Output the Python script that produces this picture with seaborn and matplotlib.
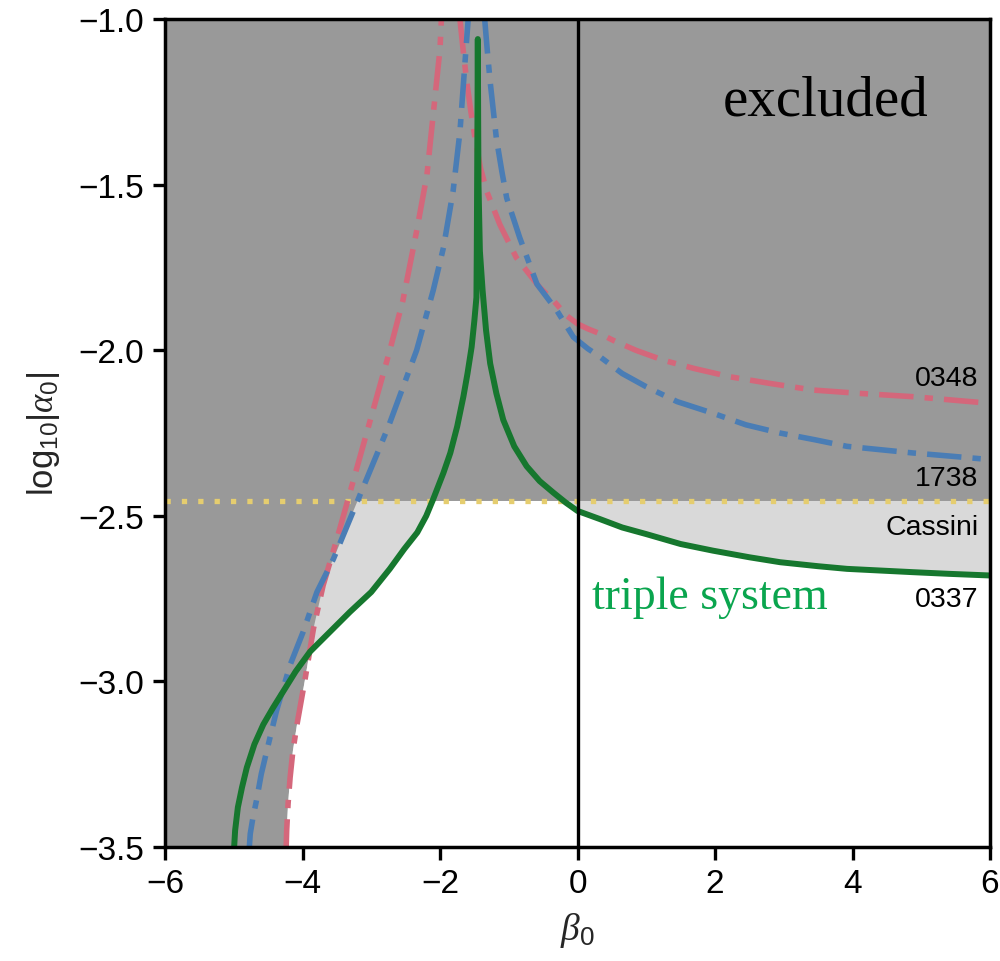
import numpy as np
import matplotlib
matplotlib.use("Agg")
import matplotlib.pyplot as plt
import seaborn as sns

# ---------------- data ----------------
# PSR J0348+0432 constraint (red dash-dot), left and right branches
red_left_x = [-4.24, -4.23, -4.21, -4.18, -4.14, -4.08, -4.02, -3.96, -3.84, -3.70, -3.50, -3.31, -3.02, -2.73, -2.54, -2.34, -2.19, -2.10, -2.00, -1.98]
red_left_y = [-3.52, -3.45, -3.37, -3.29, -3.21, -3.13, -3.06, -2.99, -2.84, -2.71, -2.57, -2.43, -2.215, -2.00, -1.85, -1.64, -1.47, -1.29, -1.09, -1.00]
red_right_x = [-1.71, -1.66, -1.61, -1.55, -1.49, -1.41, -1.32, -1.13, -0.89, -0.55, -0.35, -0.16, 0.00, 0.15, 0.33, 0.52, 0.85, 1.25, 1.70, 2.22, 2.80, 3.43, 4.10, 4.88, 6.00]
red_right_y = [-1.00, -1.10, -1.19, -1.28, -1.36, -1.45, -1.52, -1.62, -1.72, -1.81, -1.85, -1.895, -1.92, -1.935, -1.95, -1.97, -2.00, -2.03, -2.055, -2.08, -2.10, -2.12, -2.13, -2.14, -2.16]

# PSR J1738+0333 constraint (blue dash-dot)
blue_left_x = [-4.78, -4.76, -4.72, -4.67, -4.60, -4.52, -4.45, -4.38, -4.18, -3.99, -3.79, -3.55, -3.31, -3.19, -2.75, -2.34, -2.10, -1.95, -1.81, -1.71, -1.64, -1.59]
blue_left_y = [-3.52, -3.46, -3.41, -3.36, -3.28, -3.21, -3.15, -3.09, -2.95, -2.85, -2.73, -2.63, -2.51, -2.45, -2.23, -2.00, -1.82, -1.69, -1.52, -1.34, -1.14, -1.00]
blue_right_x = [-1.35, -1.31, -1.27, -1.18, -1.10, -1.03, -0.84, -0.59, -0.30, -0.06, 0.00, 0.15, 0.33, 0.65, 1.00, 1.45, 1.97, 2.45, 2.95, 3.45, 3.92, 4.40, 4.88, 5.45, 6.00]
blue_right_y = [-1.00, -1.10, -1.19, -1.36, -1.46, -1.54, -1.66, -1.80, -1.88, -1.96, -1.97, -1.995, -2.02, -2.07, -2.11, -2.155, -2.19, -2.225, -2.25, -2.27, -2.29, -2.30, -2.31, -2.32, -2.33]

# Triple system PSR J0337+1715 (green solid)
green_left_x = [-5.00, -4.98, -4.94, -4.88, -4.81, -4.70, -4.57, -4.43, -4.28, -4.10, -3.89, -3.60, -3.31, -3.00, -2.73, -2.52, -2.33, -2.20, -2.10, -1.95, -1.85, -1.75, -1.66, -1.60, -1.54, -1.50, -1.47, -1.465, -1.46, -1.455, -1.45]
green_left_y = [-3.52, -3.45, -3.38, -3.32, -3.26, -3.19, -3.13, -3.08, -3.03, -2.97, -2.91, -2.85, -2.79, -2.73, -2.66, -2.60, -2.55, -2.50, -2.45, -2.37, -2.31, -2.23, -2.14, -2.07, -1.99, -1.91, -1.84, -1.70, -1.50, -1.30, -1.06]
green_right_x = [-1.45, -1.445, -1.44, -1.42, -1.38, -1.33, -1.27, -1.18, -1.08, -0.92, -0.74, -0.55, -0.35, -0.17, 0.00, 0.33, 0.65, 1.00, 1.50, 1.97, 2.50, 2.95, 3.50, 3.92, 4.40, 4.88, 5.40, 6.00]
green_right_y = [-1.06, -1.30, -1.50, -1.70, -1.82, -1.94, -2.04, -2.13, -2.21, -2.29, -2.35, -2.395, -2.43, -2.46, -2.485, -2.51, -2.535, -2.555, -2.585, -2.605, -2.625, -2.64, -2.652, -2.66, -2.665, -2.67, -2.675, -2.68]

# Cassini bound
cassini_y = -2.455

x_ticks = [-6, -4, -2, 0, 2, 4, 6]
y_ticks = [-1.0, -1.5, -2.0, -2.5, -3.0, -3.5]

labels = ["0348", "1738", "Cassini", "0337"]
label_y = [-2.085, -2.385, -2.533, -2.752]

# ---------------- style ----------------
sns.set_theme(style="ticks")
plt.rcParams["font.family"] = ["Liberation Sans", "DejaVu Sans"]
plt.rcParams["mathtext.fontset"] = "custom"
plt.rcParams["mathtext.rm"] = "Liberation Sans"
plt.rcParams["mathtext.it"] = "Liberation Serif:italic"
plt.rcParams["axes.unicode_minus"] = True

DARK = "#999999"
LIGHT = "#d9d9d9"
RED = "#d4677b"
BLUE = "#4a7db5"
GREEN = "#16772e"
GOLD = "#e5cd6f"

fig = plt.figure(figsize=(10, 9.62), dpi=100)
ax = fig.add_axes([0.165, 0.1185, 0.825, 0.8605])
ax.set_facecolor(DARK)


def curve_on_grid(xg, lx, ly, rx, ry):
    y = np.zeros_like(xg)  # above the plotted range between branches
    lx, ly, rx, ry = map(np.asarray, (lx, ly, rx, ry))
    y[xg < lx[0]] = -9.0
    m = (xg >= lx[0]) & (xg <= lx[-1])
    y[m] = np.interp(xg[m], lx, ly)
    m = (xg >= rx[0])
    y[m] = np.interp(xg[m], rx, ry)
    return y


xg = np.linspace(-6, 6, 6001)
ry_g = curve_on_grid(xg, red_left_x, red_left_y, red_right_x, red_right_y)
by_g = curve_on_grid(xg, blue_left_x, blue_left_y, blue_right_x, blue_right_y)
gy_g = curve_on_grid(xg, green_left_x, green_left_y, green_right_x, green_right_y)

pulsar_cassini = np.minimum(np.minimum(ry_g, by_g), cassini_y)
allowed = np.minimum(pulsar_cassini, gy_g)

ax.fill_between(xg, -10, pulsar_cassini, color=LIGHT, lw=0, zorder=1)
ax.fill_between(xg, -10, allowed, color="white", lw=0, zorder=1.5)

# Cassini dotted line
ax.axhline(cassini_y, color=GOLD, linewidth=3.8, linestyle=(0, (1.0, 2.1)), zorder=2)

dash_dot = (0, (6.2, 2.0, 1.5, 2.0))
for lx, ly, c in [(red_left_x, red_left_y, RED), (red_right_x, red_right_y, RED),
                  (blue_left_x, blue_left_y, BLUE), (blue_right_x, blue_right_y, BLUE)]:
    sns.lineplot(x=lx, y=ly, ax=ax, color=c, sort=False, estimator=None, zorder=3)
    ln = ax.lines[-1]
    ln.set_linewidth(4.0)
    ln.set_linestyle(dash_dot)

gx = green_left_x + green_right_x[1:]
gy = green_left_y + green_right_y[1:]
sns.lineplot(x=gx, y=gy, ax=ax, color=GREEN, sort=False, estimator=None, zorder=4)
ax.lines[-1].set_linewidth(4.3)
ax.lines[-1].set_solid_joinstyle("round")

ax.axvline(0, color="black", linewidth=2.4, zorder=5)

ax.set_xlim(-6, 6)
ax.set_ylim(-3.5, -1.0)
ax.set_xticks(x_ticks)
ax.set_yticks(y_ticks)
ax.set_xticklabels([str(v).replace("-", "\u2212") for v in x_ticks])
ax.set_yticklabels([f"{v:.1f}".replace("-", "\u2212") for v in y_ticks])
ax.tick_params(direction="out", length=9, width=2.4, labelsize=24, colors="black", pad=6)
for s in ax.spines.values():
    s.set_linewidth(2.5)
    s.set_color("black")
    s.set_zorder(6)

ax.set_xlabel(r"$\beta_0$", fontsize=27, labelpad=8)
ax.set_ylabel(r"$\mathrm{log}_{10}|\alpha_0|$", fontsize=25, labelpad=12)

for t, yy in zip(labels, label_y):
    ax.text(5.83, yy, t, ha="right", va="center", fontsize=20.5, color="black", zorder=7)

ax.text(3.615, -1.287, "excluded", ha="center", va="baseline", fontsize=41,
        family="Liberation Serif", color="black", zorder=7)
ax.text(0.207, -2.778, "triple system", ha="left", va="baseline", fontsize=33,
        family="Liberation Serif", color="#0aa54e", zorder=7)

fig.savefig("out.png", dpi=100)
